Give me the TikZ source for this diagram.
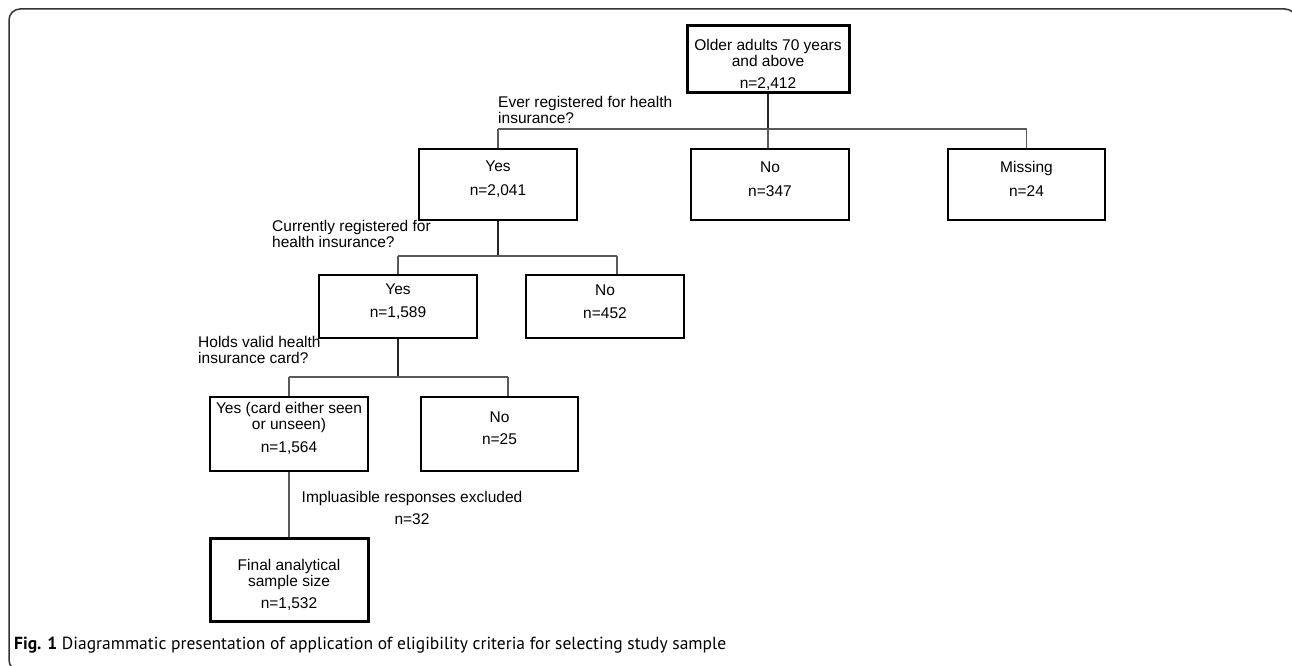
\documentclass[tikz,border=0pt]{standalone}
\usepackage{fontspec}
\setmainfont{Liberation Sans}
\newfontfamily\capfont{PT Sans}
\usetikzlibrary{calc}
\tikzset{
  x=1pt, y=-1pt,
  boxst/.style={draw=black, line width=1.2pt, rectangle, inner sep=0pt},
  thickbox/.style={draw=black, line width=3pt, rectangle, inner sep=0pt},
  txt/.style={align=center, inner sep=0pt, font=\fontsize{15.5}{16}\selectfont},
  lbl/.style={align=left, anchor=north west, inner sep=0pt, font=\fontsize{15.5}{16}\selectfont},
  conn/.style={draw=black!65, line width=1.2pt},
  trunk/.style={draw=black!85, line width=1.8pt},
}
\begin{document}
\begin{tikzpicture}
\useasboundingbox (0,0) rectangle (1292,666);
\begin{scope}
\clip (0,0) rectangle (1292,666);
\draw[black!80, line width=1.5pt, rounded corners=11pt] (9,9) rectangle (1296,671);
\end{scope}

% boxes
\node[thickbox, minimum width=162, minimum height=67] (top) at (768,59.5) {};
\node[txt] (topt) at (768,65) {Older adults 70 years\\and above\\[6pt]n=2,412};

\node[boxst, minimum width=158, minimum height=71] (yes1) at (498,184.5) {};
\node[txt] (yes1t) at (498,179) {Yes\\[8pt]n=2,041};
\node[boxst, minimum width=158, minimum height=71] (no1) at (770,184.5) {};
\node[txt] (no1t) at (770,179) {No\\[8pt]n=347};
\node[boxst, minimum width=157, minimum height=71] (mis) at (1026.5,184.5) {};
\node[txt] (mist) at (1026.5,179) {Missing\\[8pt]n=24};

\node[boxst, minimum width=158, minimum height=63] (yes2) at (398,306.5) {};
\node[txt] (yes2t) at (398,301.5) {Yes\\[7pt]n=1,589};
\node[boxst, minimum width=158, minimum height=63] (no2) at (605,306.5) {};
\node[txt] (no2t) at (605,301.5) {No\\[7pt]n=452};

\node[boxst, minimum width=158, minimum height=74] (yes3) at (289,434) {};
\node[txt] (yes3t) at (289,428.5) {Yes (card either seen\\or unseen)\\[7pt]n=1,564};
\node[boxst, minimum width=157, minimum height=74] (no3) at (499.5,434) {};
\node[txt] (no3t) at (499.5,428) {No\\[6pt]n=25};

\node[thickbox, minimum width=158, minimum height=83] (fin) at (289,579.5) {};
\node[txt] (fint) at (289,585) {Final analytical\\sample size\\[6pt]n=1,532};

% labels
\node[lbl] (q1) at (498,96) {Ever registered for health\\insurance?};
\node[lbl] (q2) at (272,220) {Currently registered for\\health insurance?};
\node[lbl] (q3) at (198,336) {Holds valid health\\insurance card?};
\node[txt] (excl) at (412,508) {Impluasible responses excluded\\[6pt]n=32};

% connectors level 1
\coordinate (h1l) at (498,129);
\coordinate (h1m) at (768,129);
\coordinate (h1r) at (1026.5,129);
\draw[trunk] (top.south) -- (h1m);
\draw[conn] (h1l) -- (h1r);
\draw[conn] (h1l) -- (yes1.north);
\draw[conn] (h1m) -- (h1m |- no1.north);
\draw[conn] (h1r) -- (mis.north);

% level 2
\coordinate (h2m) at (498,256);
\coordinate (h2l) at (398,256);
\coordinate (h2r) at (617,256);
\draw[trunk] (yes1.south) -- (h2m);
\draw[conn] (h2l) -- (h2r);
\draw[conn] (h2l) -- (yes2.north);
\draw[conn] (h2r) -- (h2r |- no2.north);

% level 3
\coordinate (h3m) at (398,377);
\coordinate (h3l) at (289,377);
\coordinate (h3r) at (508,377);
\draw[trunk] (yes2.south) -- (h3m);
\draw[conn] (h3l) -- (h3r);
\draw[conn] (h3l) -- (yes3.north);
\draw[conn] (h3r) -- (h3r |- no3.north);

% final
\draw[conn] (yes3.south) -- (fin.north);

% caption
\node[anchor=west, inner sep=0pt, font=\capfont\fontsize{17.5}{20}\selectfont] (cap) at (14,645)
  {\textbf{Fig. 1} Diagrammatic presentation of application of eligibility criteria for selecting study sample};
\end{tikzpicture}
\end{document}
